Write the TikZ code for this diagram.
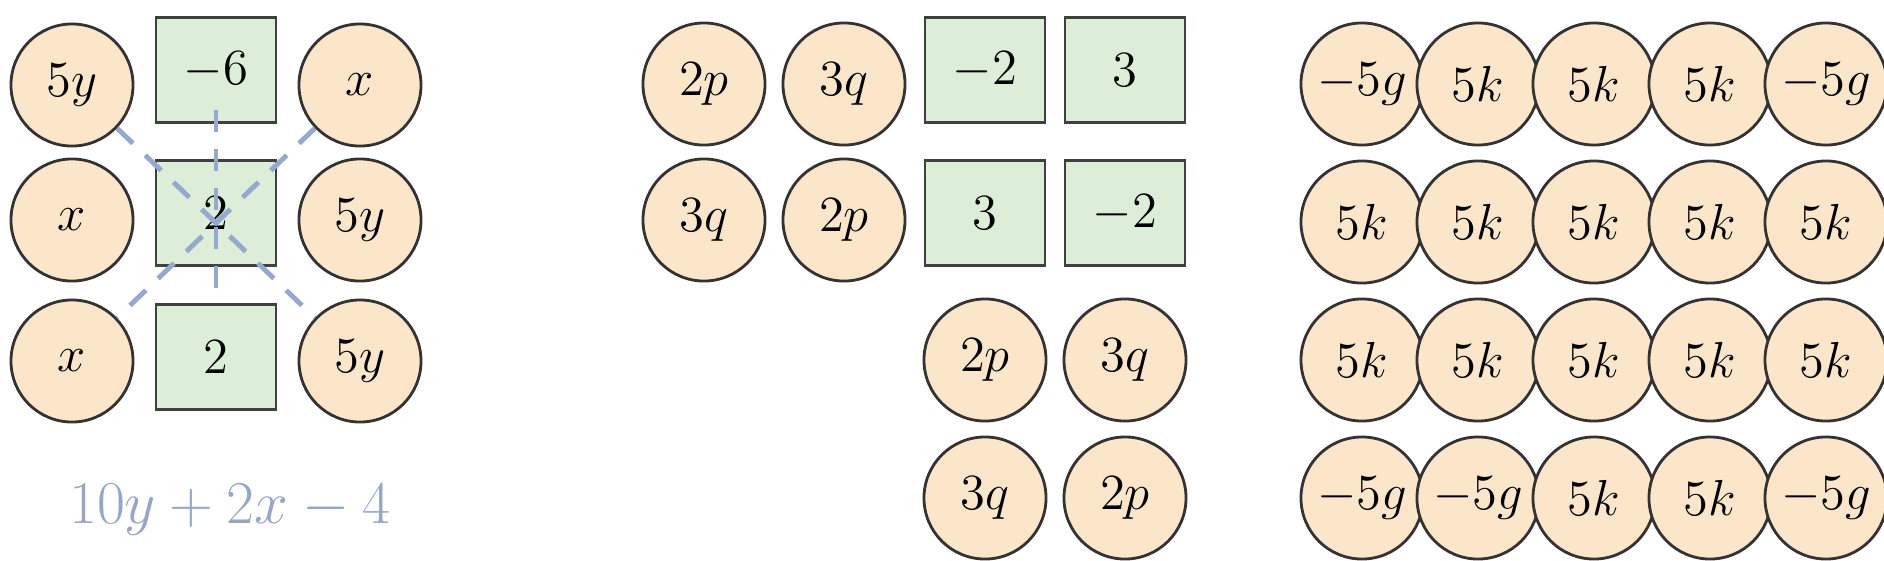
\documentclass[tikz,border=0pt]{standalone}
\usetikzlibrary{positioning}
\definecolor{tilepeach}{RGB}{252,230,202}
\definecolor{tilegreen}{RGB}{221,238,216}
\definecolor{dashblue}{RGB}{148,168,208}
\definecolor{sumblue}{RGB}{150,166,202}
\tikzset{
  var/.style={circle,draw=black!80,line width=0.8pt,fill=tilepeach,minimum size=1.22cm,inner sep=0pt,font=\fontsize{13.5}{16}\selectfont},
  num/.style={rectangle,draw=black!75,line width=0.8pt,fill=tilegreen,minimum width=1.2cm,minimum height=1.05cm,inner sep=0pt,font=\fontsize{13.5}{16}\selectfont},
  cross/.style={dashblue,line width=1.4pt,dash pattern=on 0.22cm off 0.17cm}
}
\begin{document}
\begin{tikzpicture}[x=0.01cm,y=-0.01cm]
\useasboundingbox (0,0) rectangle (1884,560);
% left group
\node[var](a1) at (72,85){$5y$};
\node[num](b1) at (216,70){$-6$};
\node[var](c1) at (360,85){$x$};
\node[var](a2) at (72,220){$x$};
\node[num](b2) at (216,213){$2$};
\node[var](c2) at (360,220){$5y$};
\node[var](a3) at (72,361){$x$};
\node[num](b3) at (216,357){$2$};
\node[var](c3) at (360,361){$5y$};
\draw[cross](a1)--(c3);
\draw[cross](c1)--(a3);
\draw[cross]([yshift=0.14cm]b1.south)--(b3.north);
\node[text=sumblue,font=\fontsize{19}{23}\selectfont](sum) at (230,510){$10y+2x-4$};
% middle group
\node[var](p1) at (704,84){$2p$};
\node[var](q1) at (844,84){$3q$};
\node[num](m1) at (985,70){$-2$};
\node[num](n1) at (1125,70){$3$};
\node[var](q2) at (704,220){$3q$};
\node[var](p2) at (844,220){$2p$};
\node[num](m2) at (985,213){$3$};
\node[num](n2) at (1125,213){$-2$};
\node[var](p3) at (985,360){$2p$};
\node[var](q3) at (1125,360){$3q$};
\node[var](q4) at (985,498){$3q$};
\node[var](p4) at (1125,498){$2p$};
% right group
\foreach \row/\yy/\labs in {1/84/{-5g,5k,5k,5k,-5g},2/222/{5k,5k,5k,5k,5k},3/360/{5k,5k,5k,5k,5k},4/498/{-5g,-5g,5k,5k,-5g}}{
  \foreach \lab [count=\col] in \labs{
    \node[var](k\row\col) at (1246+116*\col,\yy){$\lab$};
  }
}
\end{tikzpicture}
\end{document}
